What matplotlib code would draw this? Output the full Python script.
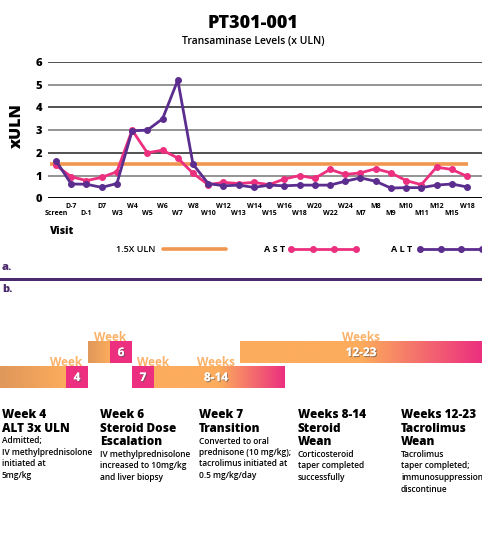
import matplotlib.pyplot as plt
import matplotlib.patheffects as pe
import numpy as np
from matplotlib.colors import LinearSegmentedColormap
from matplotlib.transforms import blended_transform_factory

plt.rcParams["font.family"] = ["Open Sans", "DejaVu Sans"]

visits = ["Screen", "D-7", "D-1", "D7", "W3", "W4", "W5", "W6", "W7", "W8",
          "W10", "W12", "W13", "W14", "W15", "W16", "W18", "W20", "W22", "W24",
          "M7", "M8", "M9", "M10", "M11", "M12", "M15", "W18"]
ast = [1.45, 0.95, 0.78, 0.92, 1.17, 3.0, 2.0, 2.12, 1.77, 1.1,
       0.6, 0.7, 0.65, 0.7, 0.6, 0.85, 1.0, 0.88, 1.27, 1.05,
       1.12, 1.3, 1.12, 0.78, 0.6, 1.37, 1.27, 0.97]
alt = [1.65, 0.63, 0.62, 0.48, 0.65, 2.97, 3.0, 3.5, 5.2, 1.5,
       0.65, 0.55, 0.58, 0.48, 0.58, 0.55, 0.58, 0.58, 0.58, 0.75,
       0.9, 0.75, 0.45, 0.47, 0.47, 0.58, 0.63, 0.5]
uln_limit = 1.5

phase_numbers = ["4", "6", "7", "8-14", "12-23"]
phase_tags = ["Week", "Week", "Week", "Weeks", "Weeks"]
headings = [["Week 4", "ALT 3x ULN"],
            ["Week 6", "Steroid Dose", "Escalation"],
            ["Week 7", "Transition"],
            ["Weeks 8-14", "Steroid", "Wean"],
            ["Weeks 12-23", "Tacrolimus", "Wean"]]
details = [["Admitted;", "IV methylprednisolone", "initiated at", "5mg/kg"],
           ["IV methylprednisolone", "increased to 10mg/kg", "and liver biopsy"],
           ["Converted to oral", "prednisone (10 mg/kg);", "tacrolimus initiated at", "0.5 mg/kg/day"],
           ["Corticosteroid", "taper completed", "successfully"],
           ["Tacrolimus", "taper completed;", "immunosuppression", "discontinue"]]

ORANGE = "#f0964f"
PINK = "#ec2f7f"
PURPLE = "#5b2d8e"
DARK_PURPLE = "#4a2a6c"
BAR_ORANGE = "#fcac5c"
BAR_TAN = "#df975a"
TAG_ORANGE = "#fbb26a"

W, H = 482, 536
fig = plt.figure(figsize=(W / 100, H / 100), dpi=100)

# ---- chart ----
ax = fig.add_axes([48 / W, 1 - 198.3 / H, 1 - 48 / W, (198.3 - 62) / H])
x = np.arange(len(visits))
ax.set_xlim(-0.526, len(visits) - 1 + 15 / 15.22)
ax.set_ylim(0, 6)
for v in range(1, 7):
    ax.axhline(v, color="#222222" if v % 2 == 0 else "#777777", lw=1.1, zorder=1)
ax.axhline(0, color="black", lw=1.4, zorder=1)
ax.hlines(uln_limit, -0.4, len(visits) - 0.93, color=ORANGE, lw=2.6, zorder=2)
ax.plot(x, ast, color=PINK, lw=2, marker="o", ms=4, zorder=3)
ax.plot(x, alt, color=PURPLE, lw=2, marker="o", ms=4, zorder=4)
for s in ax.spines.values():
    s.set_visible(False)
ax.set_xticks([])
ax.set_yticks(range(7))
ax.set_yticklabels([str(v) for v in range(7)], fontsize=8, fontweight="heavy")
ax.tick_params(axis="y", length=0, pad=4)
trans = blended_transform_factory(ax.transData, ax.transAxes)
for i, lab in enumerate(visits):
    yy = -0.06 if i % 2 else -0.11
    ax.text(i, yy, lab, transform=trans, ha="center", va="center",
            fontsize=5, fontweight="bold")

# ---- overlay in pixel coordinates ----
ov = fig.add_axes([0, 0, 1, 1], zorder=-1)
ov.set_xlim(0, W)
ov.set_ylim(H, 0)
ov.axis("off")

ov.text(253, 24, "PT301-001", ha="center", va="center", fontsize=13, fontweight="heavy")
ov.text(253, 41, "Transaminase Levels (x ULN)", ha="center", va="center", fontsize=7.5,
        fontweight="semibold")
ov.text(17, 126, "xULN", rotation=90, ha="center", va="center", fontsize=11.5, fontweight="heavy")
ov.text(50, 231, "Visit", ha="left", va="center", fontsize=7.5, fontweight="heavy")

# legend
ov.text(155, 249, "1.5X ULN", ha="right", va="center", fontsize=6.5, fontweight="semibold")
ov.plot([163, 226], [249, 249], color=ORANGE, lw=2.6, solid_capstyle="round")
ov.text(285, 249, "A S T", ha="right", va="center", fontsize=6.5, fontweight="bold")
ov.plot(np.linspace(291, 356, 4), [249] * 4, color=PINK, lw=2, marker="o", ms=4)
ov.text(412, 249, "A L T", ha="right", va="center", fontsize=6.5, fontweight="bold")
ov.plot(np.linspace(420, 482, 4), [249] * 4, color=PURPLE, lw=2, marker="o", ms=4)

ov.text(2, 268, "a.", ha="left", va="center", fontsize=8, fontweight="heavy", color=DARK_PURPLE)
ov.add_patch(plt.Rectangle((0, 277.5), W, 3.5, color=DARK_PURPLE, lw=0))
ov.text(2, 290, "b.", ha="left", va="center", fontsize=8, fontweight="heavy", color=DARK_PURPLE)

# ---- timeline bars ----
grad = np.linspace(0, 1, 256).reshape(1, -1)
tan_cmap = LinearSegmentedColormap.from_list("tan", [BAR_TAN, BAR_ORANGE])
pink_cmap = LinearSegmentedColormap.from_list("pk", [BAR_ORANGE, BAR_ORANGE, PINK])
shadow = [pe.withSimplePatchShadow(offset=(0.8, -0.8), shadow_rgbFace="#555555", alpha=0.6), pe.Normal()]

def gradient(x0, x1, y0, y1, cmap):
    ov.imshow(grad, cmap=cmap, aspect="auto", extent=(x0, x1, y1, y0), zorder=2)

def square(x0, x1, y0, y1, label):
    ov.add_patch(plt.Rectangle((x0, y0), x1 - x0, y1 - y0, color=PINK, lw=0, zorder=3))
    ov.text((x0 + x1) / 2, (y0 + y1) / 2 + 0.5, label, ha="center", va="center", color="white",
            fontsize=8.5, fontweight="bold", zorder=4, path_effects=shadow)

def tag(xc, ytop, label):
    ov.text(xc, ytop + 3, label, ha="center", va="bottom", color=TAG_ORANGE,
            fontsize=8.5, fontweight="bold", zorder=1)

low0, low1 = 366, 388
up0, up1 = 341, 363

# week 4
gradient(0, 66, low0, low1, tan_cmap)
ov.add_patch(plt.Rectangle((66, low0), 22, low1 - low0, color=BAR_ORANGE, lw=0, zorder=2))
square(66, 88, low0, low1, phase_numbers[0])
tag(66, low0, phase_tags[0])
# week 6
gradient(88, 110, up0, up1, tan_cmap)
square(110, 132, up0, up1, phase_numbers[1])
tag(110, up0, phase_tags[1])
# week 7 + weeks 8-14
square(132, 154, low0, low1, phase_numbers[2])
tag(153, low0, phase_tags[2])
gradient(154, 285, low0, low1, pink_cmap)
ov.text(216, (low0 + low1) / 2 + 0.5, phase_numbers[3], ha="center", va="center", color="white",
        fontsize=8.5, fontweight="bold", zorder=4, path_effects=shadow)
tag(216, low0, phase_tags[3])
# weeks 12-23
gradient(240, W, up0, up1, pink_cmap)
ov.text(361, (up0 + up1) / 2 + 0.5, phase_numbers[4], ha="center", va="center", color="white",
        fontsize=8.5, fontweight="bold", zorder=4, path_effects=shadow)
tag(361, up0, phase_tags[4])

# ---- text columns ----
col_x = [2, 100, 199, 298, 401]
for cx, head, body in zip(col_x, headings, details):
    y = 415
    for line in head:
        ov.text(cx, y, line, ha="left", va="center", fontsize=8.5, fontweight="heavy")
        y += 13.5
    y -= 1
    for line in body:
        ov.text(cx, y, line, ha="left", va="center", fontsize=6, fontweight="semibold")
        y += 11.5

fig.savefig("out.png", dpi=100)
